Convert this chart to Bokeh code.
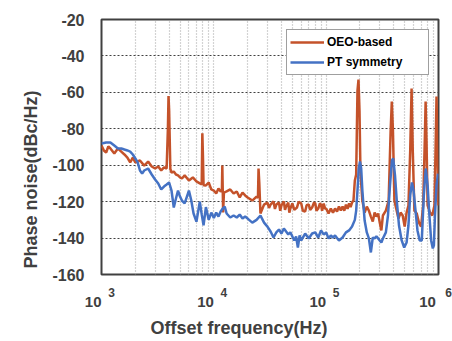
from bokeh.plotting import figure
from bokeh.models import Range1d, FixedTicker, Legend, LegendItem, LogAxis, Title
from bokeh.embed import file_html
from bokeh.resources import INLINE

# ---------------- data ----------------
oeo_freq = [1000, 1050, 1100, 1150, 1200, 1300, 1400, 1500, 1600, 1700, 1800, 1900, 2000, 2200, 2400,
            2600, 2800, 3000, 3200, 3400, 3600, 3800, 3900, 3950, 4000, 4100, 4200, 4400, 4600, 4800,
            5000, 5200, 5500, 6000, 6500, 7000, 7500, 7800, 7900, 8000, 8100, 8500, 9000, 9500, 10000,
            10500, 11000, 11500, 11800, 11900, 12100, 12300, 13000, 14000, 15000, 16000, 17000, 18000,
            19000, 20000, 22000, 24000, 24700, 25000, 25400, 26000, 28000, 30000, 31000, 32000, 34000,
            35000, 36000, 38000, 39000, 40000, 42000, 43000, 44000, 46000, 47000, 48000, 50000, 52000,
            55000, 57000, 60000, 62000, 65000, 67000, 70000, 72000, 75000, 78000, 80000, 82000, 85000,
            88000, 90000, 92000, 95000, 98000, 100000, 105000, 110000, 115000, 120000, 125000, 130000,
            135000, 140000, 145000, 150000, 155000, 160000, 165000, 170000, 175000, 180000, 185000,
            190000, 194000, 198000, 202000, 210000, 220000, 230000, 240000, 250000, 260000, 270000,
            280000, 290000, 300000, 310000, 320000, 340000, 360000, 375000, 384000, 393000, 405000,
            420000, 440000, 460000, 480000, 500000, 520000, 540000, 560000, 576000, 590000, 610000,
            640000, 670000, 700000, 730000, 755000, 768000, 782000, 800000, 840000, 880000, 920000,
            945000, 960000, 975000, 1000000]
oeo_db = [-89.2, -91.9, -93.0, -89.7, -90.8, -93.6, -90.8, -92.5, -94.1, -95.8, -98.5, -95.8, -98.5, -97.4, -100.2,
          -98.0, -100.7, -101.8, -100.7, -102.9, -101.2, -101.8, -80.0, -62.0, -70.0, -102.0, -104.0, -103.5, -105.1, -105.6,
          -106.7, -107.3, -105.6, -108.4, -106.7, -108.9, -110.0, -110.5, -82.5, -95.0, -111.0, -111.1, -109.5, -113.3, -113.9,
          -115.5, -112.8, -114.4, -114.0, -100.2, -126.0, -115.0, -114.4, -113.3, -115.5, -114.4, -117.7, -115.0,
          -116.6, -117.7, -119.4, -117.2, -118.0, -101.8, -110.0, -126.5, -121.6, -120.5, -123.5, -121.6, -119.9,
          -124.0, -121.6, -120.5, -125.0, -122.1, -119.9, -124.5, -122.7, -120.5, -126.0, -123.8, -121.0, -124.5,
          -123.2, -120.0, -121.0, -125.0, -125.4, -122.0, -121.6, -124.5, -123.2, -120.5, -121.0, -125.0, -123.8,
          -121.0, -121.6, -125.0, -121.0, -124.0, -123.8, -126.5, -123.8, -126.0, -123.8, -125.4, -122.7,
          -124.9, -122.7, -125.0, -121.6, -124.0, -121.0, -123.0, -120.5, -119.4, -108.4, -105.1,
          -59.0, -53.0, -70.0, -104.0, -119.4, -126.0, -122.7, -124.9, -128.2, -130.9, -126.0,
          -128.2, -126.5, -131.5, -135.8, -127.6, -124.9, -119.4, -81.0, -65.0, -81.0, -119.4,
          -123.8, -129.3, -126.0, -127.6, -133.7, -126.0, -122.1, -92.0, -57.9, -92.0, -124.9,
          -126.5, -131.5, -133.7, -122.1, -86.4, -65.0, -86.4, -122.1, -126.0, -127.6, -122.1,
          -86.4, -62.3, -86.0, -122.1]

pt_freq = [1000, 1100, 1200, 1300, 1400, 1500, 1600, 1700, 1800, 1900, 2000, 2100, 2200, 2300, 2400, 2600,
           2800, 3000, 3200, 3400, 3600, 3800, 4000, 4200, 4400, 4600, 4800, 5000, 5200, 5500, 6000, 6300,
           6600, 7000, 7500, 7800, 8100, 8500, 9000, 9500, 10000, 10500, 11000, 11500, 12000, 12500, 13000,
           14000, 15000, 16000, 17000, 18000, 19000, 20000, 22000, 24000, 26000, 28000, 30000, 32000, 34000,
           36000, 38000, 40000, 42000, 44000, 46000, 48000, 50000, 52000, 54000, 56000, 58000, 60000, 65000,
           70000, 75000, 80000, 85000, 90000, 95000, 100000, 105000, 110000, 115000, 120000, 130000, 140000,
           150000, 160000, 170000, 180000, 185000, 190000, 195000, 200000, 205000, 210000, 220000, 230000,
           240000, 250000, 260000, 270000, 280000, 290000, 300000, 310000, 320000, 340000, 355000, 370000,
           385000, 395000, 410000, 425000, 445000, 470000, 495000, 520000, 540000, 560000, 580000, 600000,
           620000, 650000, 680000, 710000, 740000, 770000, 800000, 830000, 860000, 890000, 910000, 930000,
           960000, 990000]
pt_db = [-88.1, -87.5, -87.5, -89.2, -90.8, -90.8, -91.4, -91.9, -92.5, -94.1, -96.3, -98.5, -102.9, -104.6, -102.9, -101.8,
         -105.1, -107.8, -110.0, -113.3, -111.7, -110.6, -109.5, -113.9, -123.2, -118.3, -113.9, -117.2, -119.4, -121.0, -113.9, -119.4,
         -126.5, -131.0, -120.0, -127.0, -133.0, -123.0, -130.0, -126.0, -129.0, -126.0, -128.2, -125.4, -123.8, -122.7, -126.5,
         -128.7, -127.6, -128.7, -127.1, -129.3, -128.2, -129.3, -131.5, -130.0, -127.6, -131.5, -133.7, -136.4, -139.7,
         -136.9, -135.3, -137.5, -134.7, -136.4, -138.0, -136.9, -139.1, -141.3, -139.1, -145.2, -138.6, -141.3, -137.5,
         -140.2, -137.5, -136.9, -139.7, -135.8, -138.0, -136.9, -140.2, -138.6, -139.7, -138.6, -141.3, -139.7,
         -136.9, -135.8, -133.7, -130.0, -124.9, -113.9, -101.8, -98.0, -101.8, -113.9, -130.4, -136.9,
         -140.2, -147.9, -139.7, -140.2, -139.1, -140.2, -141.3, -142.4, -140.2, -136.9, -127.6, -111.1,
         -97.4, -96.3, -105.6, -119.4, -133.1, -141.3, -145.2, -142.4, -133.1, -116.6, -109.5, -113.9,
         -123.2, -135.8, -141.3, -141.3, -116.6, -101.8, -111.1, -127.6, -141.3, -145.7, -144.0, -127.6,
         -111.1, -104.6]

y_ticks = [-160, -140, -120, -100, -80, -60, -40, -20]
y_tick_labels = ["-160", "-140", "-120", "-100", "-80", "-60", "-40", "-20"]
x_ticks = [1e3, 1e4, 1e5, 1e6]
x_base = ["10", "10", "10", "10"]
x_exp = ["3", "4", "5", "6"]
series_names = ["OEO-based", "PT symmetry"]
x_title = "Offset frequency(Hz)"
y_title = "Phase noise(dBc/Hz)"

# ---------------- styling ----------------
TXT = "#404040"
FONT = "Liberation Sans"
ORANGE = "#C4522A"
BLUE = "#4472C4"
FSP = "\u2007"  # figure space (digit width), used to offset centred tick labels

p = figure(width=452, height=341, x_axis_type="log",
           x_range=Range1d(1e3, 1e6), y_range=Range1d(-160, -20),
           output_backend="svg", toolbar_location=None,
           min_border_left=101, min_border_right=14, min_border_top=19, min_border_bottom=67)
p.background_fill_color = "white"
p.border_fill_color = "white"
p.outline_line_color = "#404040"
p.outline_line_width = 2

minor = [m * t for t in x_ticks[:-1] for m in range(2, 10)]
xticker = FixedTicker(ticks=x_ticks, minor_ticks=minor)
p.xaxis.ticker = xticker
p.yaxis.ticker = FixedTicker(ticks=y_ticks)
p.xgrid.ticker = xticker
p.ygrid.ticker = p.yaxis.ticker
p.yaxis.major_label_overrides = {t: s for t, s in zip(y_ticks, y_tick_labels)}

# exponent axis (second, below the "10" axis, pulled up with negative standoff)
exp_axis = LogAxis(ticker=FixedTicker(ticks=x_ticks))
p.add_layout(exp_axis, "below")

for ax in (p.xaxis[0], exp_axis, p.yaxis[0]):
    ax.axis_line_color = None
    ax.major_tick_out = 0
    ax.major_tick_in = 0
    ax.minor_tick_out = 0
    ax.minor_tick_in = 0

xa = p.xaxis[0]
xa.major_label_overrides = {t: s + FSP * len(s) for t, s in zip(x_ticks, x_base)}
xa.major_label_text_font = FONT
xa.major_label_text_font_size = "15px"
xa.major_label_text_font_style = "bold"
xa.major_label_text_color = TXT
xa.major_label_standoff = 18

exp_axis.major_label_overrides = {t: FSP * 3 + s for t, s in zip(x_ticks, x_exp)}
exp_axis.major_label_text_font = FONT
exp_axis.major_label_text_font_size = "12px"
exp_axis.major_label_text_font_style = "bold"
exp_axis.major_label_text_color = TXT
exp_axis.major_label_standoff = -27

p.yaxis.major_label_text_font = FONT
p.yaxis.major_label_text_font_size = "16px"
p.yaxis.major_label_text_font_style = "bold"
p.yaxis.major_label_text_color = TXT
p.yaxis.major_label_standoff = 17

p.ygrid.grid_line_color = "#404040"
p.ygrid.grid_line_dash = "2 2"
p.ygrid.grid_line_width = 1.2
p.xgrid.grid_line_color = "#a8a8a8"
p.xgrid.grid_line_dash = "1 2"
p.xgrid.grid_line_width = 1.2
p.xgrid.minor_grid_line_color = "#a8a8a8"
p.xgrid.minor_grid_line_dash = "1 2"
p.xgrid.minor_grid_line_width = 1.2

r1 = p.line(oeo_freq, oeo_db, line_color=ORANGE, line_width=2.5)
r2 = p.line(pt_freq, pt_db, line_color=BLUE, line_width=2.5)

legend = Legend(items=[LegendItem(label=series_names[0], renderers=[r1]),
                       LegendItem(label=series_names[1], renderers=[r2])],
                location=(185, 199))
legend.label_text_font = FONT
legend.label_text_font_size = "12px"
legend.label_text_font_style = "bold"
legend.label_text_color = "black"
legend.glyph_width = 34
legend.glyph_height = 18
legend.label_height = 18
legend.label_width = 98
legend.label_standoff = 3
legend.padding = 3
legend.spacing = 2
legend.margin = 0
legend.border_line_color = "#404040"
legend.border_line_width = 1.5
legend.background_fill_color = "white"
legend.background_fill_alpha = 1
p.add_layout(legend)

# axis titles as side-panel titles
p.add_layout(Title(text=x_title, align="left", offset=49, standoff=7,
                   text_font=FONT, text_font_size="18px", text_font_style="bold",
                   text_color=TXT), "below")
p.add_layout(Title(text=y_title, align="left", offset=6, standoff=17,
                   text_font=FONT, text_font_size="18px", text_font_style="bold",
                   text_color=TXT), "left")

open("out.html", "w").write(file_html(p, INLINE))
